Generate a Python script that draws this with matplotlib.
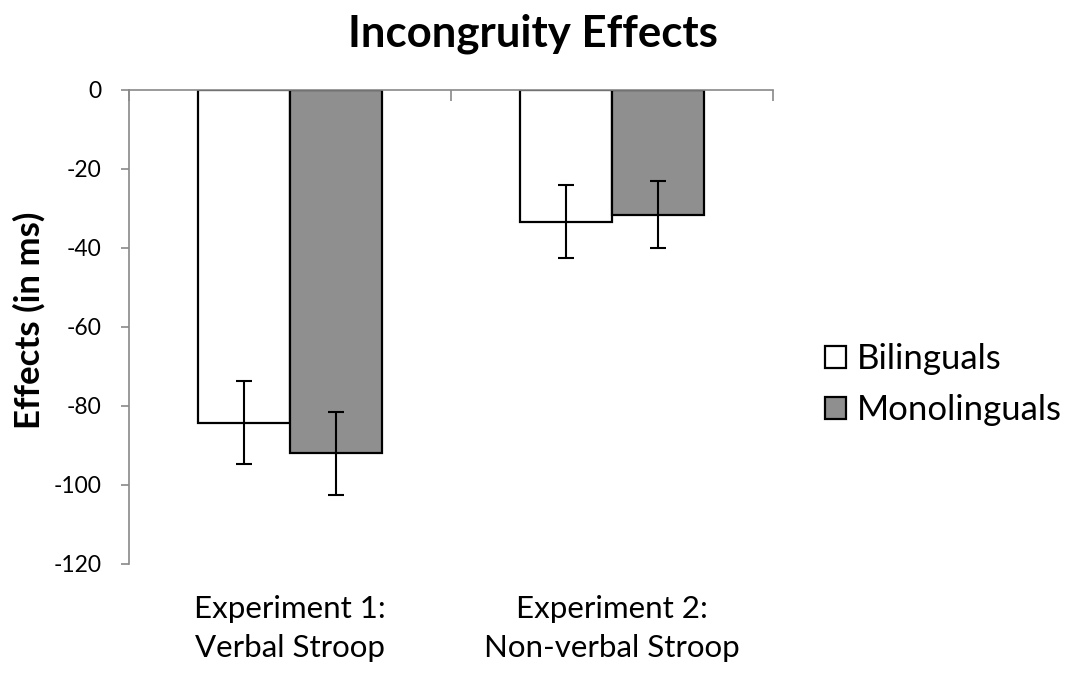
import matplotlib
matplotlib.use("Agg")
import matplotlib.pyplot as plt
import numpy as np

# ---------------- DATA ----------------
categories = ["Experiment 1:\nVerbal Stroop", "Experiment 2:\nNon-verbal Stroop"]
groups = ["Bilinguals", "Monolinguals"]
bilingual_means = [-84.3, -33.3]
bilingual_err = [10.5, 9.3]
monolingual_means = [-92.0, -31.6]
monolingual_err = [10.5, 8.5]
y_ticks = [0, -20, -40, -60, -80, -100, -120]

# ---------------- STYLE ----------------
plt.rcParams["font.family"] = ["Lato", "DejaVu Sans"]
fill_colors = ["#ffffff", "#8f8f8f"]
spine_color = "#898989"

fig = plt.figure(figsize=(10.69, 6.73), dpi=100)
ax = fig.add_axes([0.1207, 0.162, 0.6024, 0.7043])

x = np.arange(len(categories))
width = 1 / 3.5

series = [(bilingual_means, bilingual_err), (monolingual_means, monolingual_err)]
for i, (means, errs) in enumerate(series):
    offset = (i - 0.5) * width
    ax.bar(x + offset, means, width, color=fill_colors[i], edgecolor="black",
           linewidth=1.6, label=groups[i], zorder=2)
    ax.errorbar(x + offset, means, yerr=errs, fmt="none", ecolor="black",
                elinewidth=1.5, capsize=5.5, capthick=1.5, zorder=3)

ax.set_xlim(-0.5, 1.5)
ax.set_ylim(-120, 0)
ax.set_yticks(y_ticks)
ax.set_yticklabels([str(v) for v in y_ticks], fontsize=16.5)

# category labels below, boundary marks on the zero line
ax.set_xticks(x)
ax.set_xticklabels(categories, fontsize=22.5, linespacing=1.5)
ax.set_xticks([-0.5, 0.5, 1.5], minor=True)
ax.tick_params(axis="x", which="major", length=0, pad=22)
ax.tick_params(axis="x", which="minor", bottom=False, top=True, direction="in",
               length=8, color=spine_color, width=1.2)
ax.tick_params(axis="y", direction="out", length=6, color=spine_color,
               width=1.2, pad=14)

for side in ["right", "bottom"]:
    ax.spines[side].set_visible(False)
for side in ["left", "top"]:
    ax.spines[side].set_color(spine_color)
    ax.spines[side].set_linewidth(1.2)

ax.set_ylabel("Effects (in ms)", fontsize=25, fontweight="bold")
ax.yaxis.set_label_coords(-0.130, 0.515)
fig.text(0.499, 1 - 47 / 673, "Incongruity Effects", ha="center", va="baseline",
         fontsize=31.5, fontweight="bold")

ax.legend(loc="center left", bbox_to_anchor=(1.081, 0.378), frameon=False,
          fontsize=25, handlelength=0.6, handleheight=0.6, handletextpad=0.3,
          labelspacing=0.55, borderpad=0, borderaxespad=0)

fig.savefig("out.png", dpi=100)
